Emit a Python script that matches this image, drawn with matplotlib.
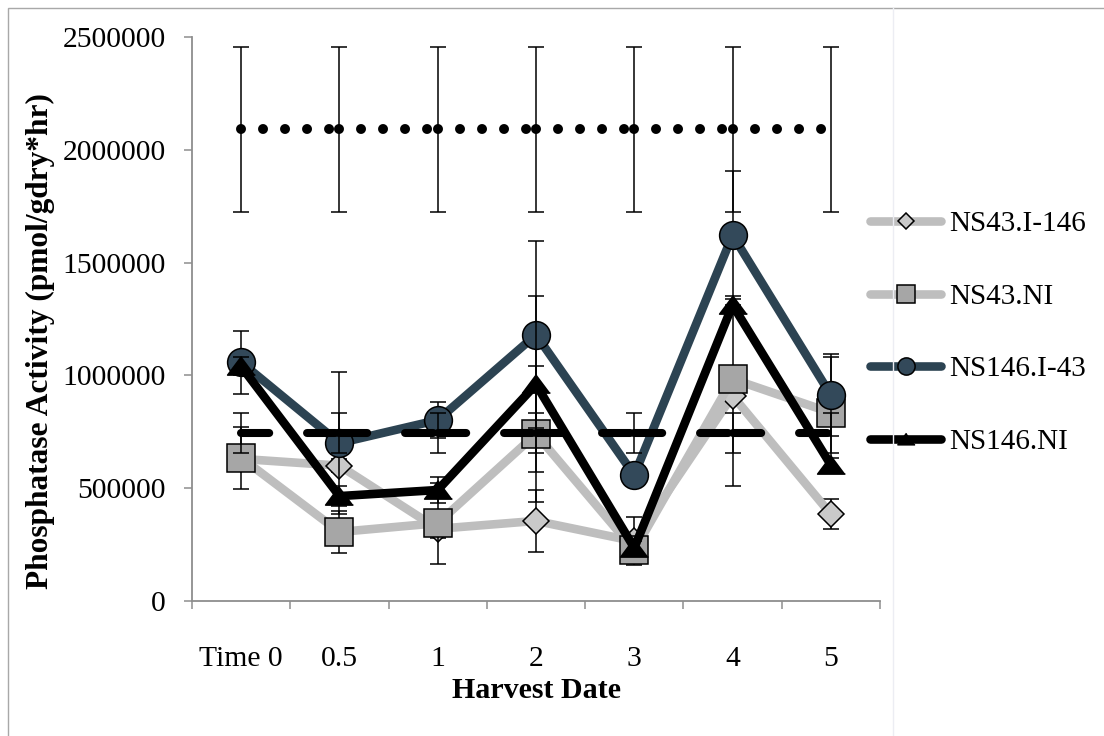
import numpy as np
import matplotlib
matplotlib.use("Agg")
import matplotlib.pyplot as plt
from matplotlib.patches import Rectangle
from matplotlib.lines import Line2D
from matplotlib.ticker import FuncFormatter

plt.rcParams['font.family'] = ['Liberation Serif', 'DejaVu Serif']

categories = ["Time 0", "0.5", "1", "2", "3", "4", "5"]

ns43_i146 = [630000, 600000, 320000, 355000, 265000, 910000, 385000]
ns43_i146_err = [30000, 30000, 40000, 137000, 107000, 400000, 68000]

ns43_ni = [635000, 306000, 345000, 740000, 225000, 984000, 835000]
ns43_ni_err = [137000, 93000, 180000, 300000, 30000, 30000, 245000]

ns146_i43 = [1058000, 700000, 802000, 1180000, 558000, 1622000, 913000]
ns146_i43_err = [141000, 313000, 81000, 415000, 40000, 284000, 180000]

ns146_ni = [1040000, 465000, 492000, 960000, 235000, 1312000, 603000]
ns146_ni_err = [40000, 43000, 58000, 390000, 30000, 40000, 30000]

# reference levels (not in legend)
ref_high = [2090000, 2090000, 2090000, 2090000, 2090000, 2090000, 2090000]
ref_high_err = [365000, 365000, 365000, 365000, 365000, 365000, 365000]
ref_low = [745000, 745000, 745000, 745000, 745000, 745000, 745000]
ref_low_err = [88000, 88000, 88000, 88000, 88000, 88000, 88000]

W, H = 1104, 736
fig = plt.figure(figsize=(W / 100, H / 100), dpi=100)
ax = fig.add_axes([192 / W, 135 / H, 688 / W, 564 / H])

x = np.arange(len(categories))
axis_grey = '#8E8E8E'
light_grey = '#BEBEBE'
slate = '#2C4352'


def draw_series(y, err, color, marker, face, ms, label, z):
    ax.errorbar(x, y, yerr=err, fmt='none', ecolor='black', elinewidth=1.1,
                capsize=5.5, capthick=1.1, zorder=z)
    ax.plot(x, y, color=color, lw=6.2, marker=marker, ms=ms, mfc=face,
            mec='black', mew=1.1, label=label, zorder=z + 0.1,
            solid_capstyle='round', solid_joinstyle='round')


tri = [(0, 0.72), (-1, -0.62), (1, -0.62)]

draw_series(ns43_i146, ns43_i146_err, light_grey, 'D', '#C9C9C9', 13.5, 'NS43.I-146', 2)
draw_series(ns43_ni, ns43_ni_err, light_grey, 's', '#A6A6A6', 20, 'NS43.NI', 3)
draw_series(ns146_i43, ns146_i43_err, slate, 'o', '#33495A', 20, 'NS146.I-43', 4)

# reference lines are drawn segment by segment so the pattern restarts at each point
ax.errorbar(x, ref_low, yerr=ref_low_err, fmt='none', ecolor='black',
            elinewidth=1.1, capsize=5.5, capthick=1.1, zorder=5)
for i in range(len(x) - 1):
    ax.plot(x[i:i + 2], ref_low[i:i + 2], color='black', lw=5.8,
            linestyle=(0, (3.5, 4.7)), dash_capstyle='round', zorder=5.1)

draw_series(ns146_ni, ns146_ni_err, 'black', tri, 'black', 20, 'NS146.NI', 6)

ax.errorbar(x, ref_high, yerr=ref_high_err, fmt='none', ecolor='black',
            elinewidth=1.1, capsize=5.5, capthick=1.1, zorder=7)
for i in range(len(x) - 1):
    ax.plot(x[i:i + 2], ref_high[i:i + 2], color='black', lw=7.2,
            linestyle=(0, (0.001, 2.2)), dash_capstyle='round', zorder=7.1)

ax.set_xlim(-0.5, len(categories) - 0.5)
ax.set_ylim(0, 2500000)
ax.set_yticks(np.arange(0, 2500001, 500000))
ax.yaxis.set_major_formatter(FuncFormatter(lambda v, p: f"{int(v)}"))

ax.set_xticks(np.arange(-0.5, len(categories), 1))
ax.set_xticklabels([])
ax.set_xticks(x, minor=True)
ax.set_xticklabels(categories, minor=True)
ax.tick_params(axis='x', which='major', direction='out', length=6,
               width=1.1, color=axis_grey)
ax.tick_params(axis='x', which='minor', length=0, pad=32.5, labelsize=21.3)
ax.tick_params(axis='y', direction='out', length=6, width=1.1,
               color=axis_grey, pad=13, labelsize=21.3)

for side in ['top', 'right']:
    ax.spines[side].set_visible(False)
for side in ['left', 'bottom']:
    ax.spines[side].set_color(axis_grey)
    ax.spines[side].set_linewidth(1.3)

fig.text(536 / W, 1 - 690 / H, "Harvest Date", ha='center', va='center',
         fontsize=21.6, fontweight='bold')
fig.text(40 / W, 1 - 341 / H, "Phosphatase Activity (pmol/gdry*hr)",
         ha='center', va='center', rotation=90, fontsize=22.6, fontweight='bold')

leg = ax.legend(loc='upper left', bbox_to_anchor=(870 / W, 1 - 211 / H),
                bbox_transform=fig.transFigure, frameon=False, fontsize=21,
                handlelength=2.45, handletextpad=0.25, labelspacing=1.58,
                markerscale=0.62, borderpad=0, borderaxespad=0)

# outer chart border
fig.add_artist(Rectangle((8 / W, -0.1), 1.2, 1.1 - 8 / H, fill=False,
                         edgecolor='#A8A8A8', lw=1.0,
                         transform=fig.transFigure))
fig.add_artist(Line2D([893 / W, 893 / W], [0, 1 - 8 / H], color='#ECEDF3',
                      lw=1.0, transform=fig.transFigure))

fig.savefig('out.png', dpi=100)
